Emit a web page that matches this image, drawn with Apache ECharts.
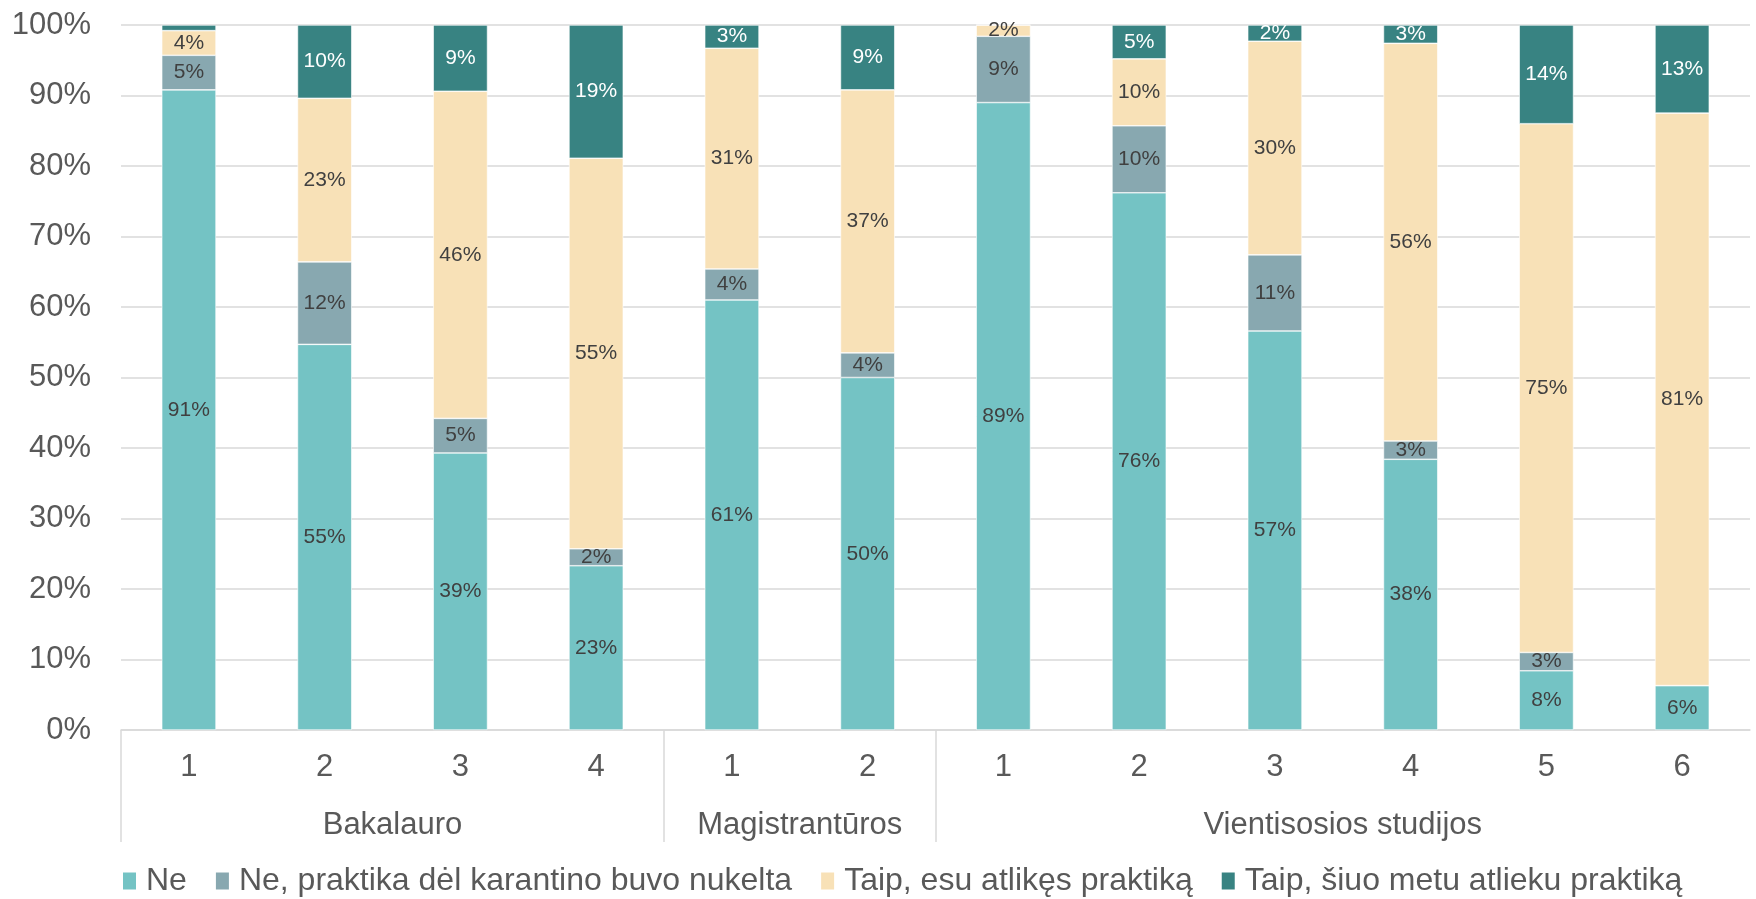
<!DOCTYPE html>
<html>
<head>
<meta charset="utf-8">
<script src="https://cdn.jsdelivr.net/npm/echarts@6/dist/echarts.min.js"></script>
<style>
  html, body { margin: 0; padding: 0; background: #fff; }
  #chart { width: 1756px; height: 899px; }
</style>
</head>
<body>
<div id="chart"></div>
<script>
'use strict';

// categories
const years = ['1', '2', '3', '4', '1', '2', '1', '2', '3', '4', '5', '6'];
const groups = ['Bakalauro', 'Magistrantūros', 'Vientisosios studijos'];
const groupSizes = [4, 2, 6];
const yTicks = [0, 10, 20, 30, 40, 50, 60, 70, 80, 90, 100];

// series values (%)
const ne = [90.8, 54.7, 39.3, 23.3, 61.0, 50.0, 89.0, 76.2, 56.6, 38.4, 8.4, 6.3];
const neNukelta = [4.9, 11.7, 4.9, 2.4, 4.4, 3.5, 9.4, 9.5, 10.8, 2.6, 2.6, 0];
const taipAtlikes = [3.5, 23.2, 46.4, 55.4, 31.3, 37.3, 1.6, 9.5, 30.3, 56.4, 75.0, 81.2];
const taipAtlieku = [0.8, 10.4, 9.4, 18.9, 3.3, 9.2, 0, 4.8, 2.3, 2.6, 14.0, 12.5];

const seriesNames = [
    'Ne',
    'Ne, praktika dėl karantino buvo nukelta',
    'Taip, esu atlikęs praktiką',
    'Taip, šiuo metu atlieku praktiką'
];

let FONT = '"Liberation Sans", Arial, sans-serif';
let gridColor = '#D9D9D9';

// category keys must be unique, label shows only the year
let catKeys = years.map(function(y, i){ return i + '_' + y; });

// group borders and centres on a 0..12 value scale
let borders = [0];
let centres = [];
groupSizes.forEach(function(n){
    let start = borders[borders.length - 1];
    centres.push(start + n / 2);
    borders.push(start + n);
});
borders.pop(); // no line at right end

let makeSeries = function(name, data, color, labelColor){
    return {
        name: name,
        type: 'bar',
        stack: 'total',
        barWidth: '40%',
        data: data,
        itemStyle: { color: color, borderColor: '#ffffff', borderWidth: 0.6 },
        label: {
            show: true,
            position: 'inside',
            fontFamily: FONT,
            fontSize: 21,
            color: labelColor,
            formatter: function(p){
                return p.value < 1 ? '' : Math.round(p.value) + '%';
            }
        }
    };
};

let chart = echarts.init(document.getElementById('chart'));
let option = {
    animation: false,
    backgroundColor: '#ffffff',
    grid: { left: 121, right: 6, top: 25, bottom: 169 },
    legend: {
        data: seriesNames,
        left: 116,
        top: 860,
        itemWidth: 15,
        itemHeight: 19,
        itemGap: 27,
        icon: 'rect',
        textStyle: { fontFamily: FONT, fontSize: 32, color: '#595959', padding: [0, 0, 0, 4] }
    },
    xAxis: [
        {
            type: 'category',
            data: catKeys,
            axisLine: { show: true, lineStyle: { color: gridColor, width: 1.5 } },
            axisTick: { show: false },
            axisLabel: {
                margin: 22,
                fontFamily: FONT,
                fontSize: 31,
                color: '#595959',
                formatter: function(v){ return v.split('_')[1]; }
            }
        },
        {
            type: 'value',
            position: 'bottom',
            min: 0,
            max: 12,
            axisLine: { show: false },
            splitLine: { show: false },
            axisTick: {
                show: true,
                length: 112,
                customValues: borders,
                lineStyle: { color: gridColor, width: 1.5 }
            },
            axisLabel: {
                show: true,
                margin: 80,
                fontFamily: FONT,
                fontSize: 31,
                color: '#595959',
                customValues: centres,
                formatter: function(v){
                    let i = centres.indexOf(v);
                    return i >= 0 ? groups[i] : '';
                }
            }
        }
    ],
    yAxis: {
        type: 'value',
        min: yTicks[0],
        max: yTicks[yTicks.length - 1],
        interval: 10,
        axisLine: { show: false },
        axisTick: { show: false },
        splitLine: { lineStyle: { color: gridColor, width: 1.5 } },
        axisLabel: {
            margin: 30,
            fontFamily: FONT,
            fontSize: 31,
            color: '#595959',
            formatter: '{value}%'
        }
    },
    series: [
        makeSeries(seriesNames[0], ne, '#74C3C4', '#404040'),
        makeSeries(seriesNames[1], neNukelta, '#88A8B0', '#404040'),
        makeSeries(seriesNames[2], taipAtlikes, '#F8E1B7', '#404040'),
        makeSeries(seriesNames[3], taipAtlieku, '#388382', '#ffffff')
    ]
};
chart.setOption(option);
</script>
</body>
</html>
